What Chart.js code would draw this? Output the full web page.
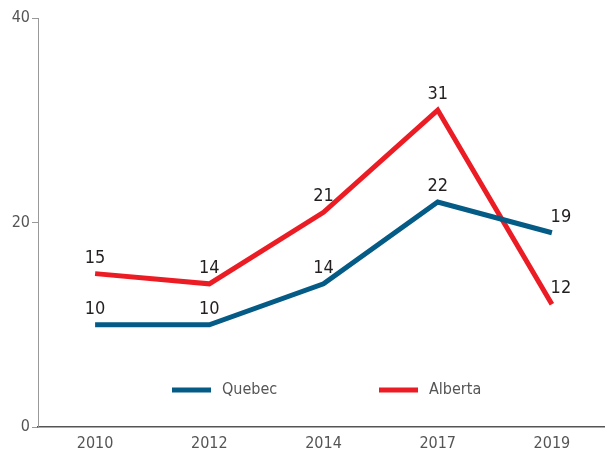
<!DOCTYPE html>
<html>
<head>
<meta charset="utf-8">
<script src="https://cdn.jsdelivr.net/npm/chart.js@4"></script>
<style>
  html, body { margin: 0; padding: 0; background: #fff; overflow: hidden; }
  #wrap { width: 609px; height: 457px; position: relative; }
</style>
</head>
<body>
<div id="wrap"><canvas id="myChart"></canvas></div>
<script>
// Chart data
let years = ['2010', '2012', '2014', '2017', '2019'];
let quebecValues = [10, 10, 14, 22, 19];
let albertaValues = [15, 14, 21, 31, 12];
let yTicks = [0, 20, 40];

let fontFamily = "'Liberation Sans Narrow', 'DejaVu Sans Condensed', 'Roboto Condensed', sans-serif";
let quebecColor = '#045b85';
let albertaColor = '#ec1c24';

// Plugin to draw value labels above points
let valueLabels = {
    id: 'valueLabels',
    afterDatasetsDraw: (chart) => {
        let ctx = chart.ctx;
        ctx.save();
        ctx.font = '18px ' + fontFamily;
        ctx.fillStyle = '#231f20';
        ctx.textAlign = 'center';
        ctx.textBaseline = 'alphabetic';
        chart.data.datasets.forEach((ds, i) => {
            let meta = chart.getDatasetMeta(i);
            meta.data.forEach((pt, j) => {
                let dx = j === meta.data.length - 1 ? 9 : 0;
                ctx.fillText(ds.data[j], pt.x + dx, pt.y - 11);
            });
        });
        ctx.restore();
    }
};

// Plugin to draw the legend inside the plot
let insideLegend = {
    id: 'insideLegend',
    afterDraw: (chart) => {
        let ctx = chart.ctx;
        let y = 390;
        let starts = [172, 379];
        ctx.save();
        ctx.font = '16px ' + fontFamily;
        ctx.textBaseline = 'middle';
        ctx.textAlign = 'left';
        chart.data.datasets.forEach((ds, i) => {
            let x = starts[i];
            ctx.strokeStyle = ds.borderColor;
            ctx.lineWidth = 5;
            ctx.beginPath();
            ctx.moveTo(x, y);
            ctx.lineTo(x + 39, y);
            ctx.stroke();
            ctx.fillStyle = '#555';
            ctx.fillText(ds.label, x + 50, y);
        });
        ctx.restore();
    }
};

let ctx = document.getElementById('myChart').getContext('2d');
let chart = new Chart(ctx, {
    type: 'line',
    data: {
        labels: years,
        datasets: [{
            label: 'Quebec',
            data: quebecValues,
            borderColor: quebecColor,
            backgroundColor: quebecColor,
            borderWidth: 5,
            pointRadius: 0,
            tension: 0,
            clip: false
        }, {
            label: 'Alberta',
            data: albertaValues,
            borderColor: albertaColor,
            backgroundColor: albertaColor,
            borderWidth: 5,
            pointRadius: 0,
            tension: 0,
            clip: false
        }]
    },
    options: {
        responsive: true,
        maintainAspectRatio: false,
        animation: false,
        layout: { padding: { top: 18, right: 0, left: 0, bottom: 0 } },
        plugins: {
            legend: { display: false },
            tooltip: { enabled: false }
        },
        scales: {
            x: {
                offset: true,
                grid: { display: false, drawTicks: false },
                border: { display: true, color: '#555', width: 1.5 },
                ticks: {
                    color: '#555',
                    padding: 7,
                    font: { family: fontFamily, size: 16 }
                },
                afterFit: (scale) => { scale.height = 30; }
            },
            y: {
                min: 0,
                max: 40,
                afterBuildTicks: (scale) => {
                    scale.ticks = yTicks.map(v => ({ value: v }));
                },
                grid: {
                    display: true,
                    drawOnChartArea: false,
                    drawTicks: true,
                    tickLength: 6,
                    color: '#999'
                },
                border: { display: true, color: '#999', width: 1 },
                ticks: {
                    color: '#555',
                    padding: 2,
                    font: { family: fontFamily, size: 16 }
                },
                afterFit: (scale) => { scale.width = 38; }
            }
        }
    },
    plugins: [valueLabels, insideLegend]
});
</script>
</body>
</html>
